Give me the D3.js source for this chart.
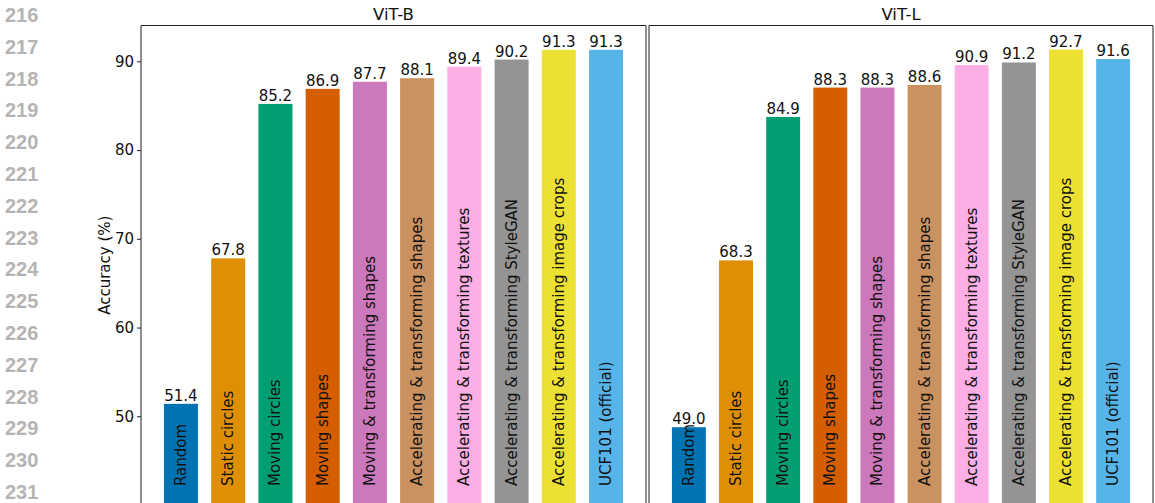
<!DOCTYPE html>
<html>
<head>
<meta charset="utf-8">
<script src="https://cdn.jsdelivr.net/npm/d3@7"></script>
<style>
  body { margin: 0; background: #fff; }
  svg { display: block; font-family: "DejaVu Sans", sans-serif; }
</style>
</head>
<body>
<svg id="chart" width="1155" height="503"></svg>
<script>
// --- data ---
const categories = [
    "Random", "Static circles", "Moving circles", "Moving shapes",
    "Moving & transforming shapes", "Accelerating & transforming shapes",
    "Accelerating & transforming textures", "Accelerating & transforming StyleGAN",
    "Accelerating & transforming image crops", "UCF101 (official)"
];
const vitB = [51.4, 67.8, 85.2, 86.9, 87.7, 88.1, 89.4, 90.2, 91.3, 91.3];
const vitL = [49.0, 68.3, 84.9, 88.3, 88.3, 88.6, 90.9, 91.2, 92.7, 91.6];
const colors = ["#0173b2", "#de8f05", "#029e73", "#d55e00", "#cc78bc",
                "#ca9161", "#fbafe4", "#949494", "#ece133", "#56b4e9"];
const yTicks = [50, 60, 70, 80, 90];
const lineNumbers = d3.range(216, 232);

const svg = d3.select("#chart");

// --- line numbers on the left margin ---
svg.append("g").selectAll("text")
    .data(lineNumbers)
    .join("text")
    .attr("x", 5)
    .attr("y", (d, i) => 15 + i * 31.8)
    .attr("dominant-baseline", "central")
    .attr("font-family", "Liberation Sans, Arial, sans-serif")
    .attr("font-weight", "bold")
    .attr("font-size", "20px")
    .attr("fill", "#b4b4b4")
    .text(d => d);

// --- panels ---
const plotTop = 25.5, plotBottom = 505;
const panels = [
    { title: "ViT-B", values: vitB, x0: 141, x1: 646, axis: true },
    { title: "ViT-L", values: vitL, x0: 649, x1: 1153, axis: false }
];

panels.forEach(p => {
    const x = d3.scaleLinear().domain([-0.846, 9.846]).range([p.x0, p.x1]);
    const y = d3.scaleLinear().domain([40, d3.max(p.values) * 1.03]).range([plotBottom, plotTop]);
    const bw = x(0.72) - x(0);

    const g = svg.append("g");

    g.selectAll("rect.bar")
        .data(p.values)
        .join("rect")
        .attr("class", "bar")
        .attr("x", (d, i) => x(i) - bw / 2)
        .attr("y", d => y(d))
        .attr("width", bw)
        .attr("height", d => y(40) - y(d))
        .attr("fill", (d, i) => colors[i]);

    // value labels
    g.selectAll("text.val")
        .data(p.values)
        .join("text")
        .attr("class", "val")
        .attr("x", (d, i) => x(i))
        .attr("y", d => y(d) - 3)
        .attr("text-anchor", "middle")
        .attr("font-size", "15px")
        .attr("fill", "#111")
        .text(d => d.toFixed(1));

    // category names inside bars
    g.selectAll("text.cat")
        .data(categories)
        .join("text")
        .attr("class", "cat")
        .attr("transform", (d, i) => `translate(${x(i)},486) rotate(-90)`)
        .attr("dominant-baseline", "central")
        .attr("font-size", "15px")
        .attr("fill", "#111")
        .text(d => d);

    // frame
    g.append("line")
        .attr("x1", p.x0).attr("x2", p.x1)
        .attr("y1", plotTop).attr("y2", plotTop)
        .attr("stroke", "#222").attr("stroke-width", 1.2);
    [p.x0, p.x1].forEach(xx => {
        g.append("line")
            .attr("x1", xx).attr("x2", xx)
            .attr("y1", plotTop).attr("y2", plotBottom)
            .attr("stroke", "#444").attr("stroke-width", 1.2);
    });

    // title
    g.append("text")
        .attr("x", (p.x0 + p.x1) / 2)
        .attr("y", 20)
        .attr("text-anchor", "middle")
        .attr("font-size", "16.5px")
        .attr("fill", "#111")
        .text(p.title);

    if (p.axis) {
        const ax = g.append("g")
            .attr("transform", `translate(${p.x0},0)`)
            .call(d3.axisLeft(y).tickValues(yTicks).tickSize(4).tickPadding(3));
        ax.select(".domain").remove();
        ax.selectAll(".tick line").attr("stroke", "#222");
        ax.selectAll(".tick text")
            .attr("font-family", "DejaVu Sans, sans-serif")
            .attr("font-size", "15px")
            .attr("fill", "#111");

        g.append("text")
            .attr("transform", `translate(105,${(plotTop + plotBottom) / 2}) rotate(-90)`)
            .attr("text-anchor", "middle")
            .attr("dominant-baseline", "central")
            .attr("font-size", "15px")
            .attr("fill", "#111")
            .text("Accuracy (%)");
    }
});
</script>
</body>
</html>
